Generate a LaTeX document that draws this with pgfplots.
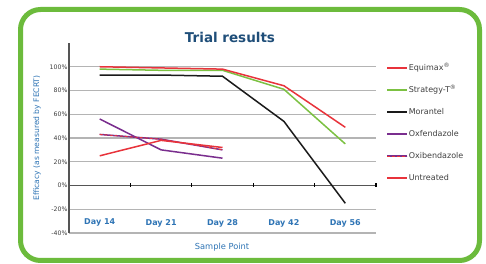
\documentclass[border=0pt]{standalone}
\usepackage{pgfplots}
\pgfplotsset{compat=1.18}
\usepackage{fontspec}
\setmainfont{DejaVu Sans}
\definecolor{framegreen}{HTML}{6CBB3C}
\definecolor{titleblue}{HTML}{1F4E79}
\definecolor{lblblue}{HTML}{2E74B5}
\definecolor{cred}{HTML}{E8333B}
\definecolor{cgreen}{HTML}{7CC142}
\definecolor{cblack}{HTML}{1A1A1A}
\definecolor{cpurple}{HTML}{7A2E8E}
\definecolor{gridgray}{HTML}{B4B4B4}
\definecolor{axgray}{HTML}{555555}
\tikzset{daylbl/.style={font=\fontsize{8}{8}\selectfont\bfseries, text=lblblue},
  gridln/.style={draw=gridgray, line width=1.4pt}}
\begin{document}
\begin{tikzpicture}[x=1pt,y=1pt]
\useasboundingbox (0,0) rectangle (486,264);
\draw[framegreen, line width=5pt, rounded corners=20pt, fill=white] (20.5,3.5) rectangle (479.5,254.5);
\node[font=\bfseries\fontsize{13.5}{13.5}\selectfont, text=titleblue] at (230,227) {Trial results};
\node[font=\fontsize{7.6}{7.6}\selectfont, text=lblblue, rotate=90] at (37,126) {Efficacy (as measured by FECRT)};
\node[font=\fontsize{8.3}{8.3}\selectfont, text=lblblue] at (222,17) {Sample Point};
\begin{axis}[
  at={(69pt,31pt)}, anchor=south west, scale only axis,
  width=307pt, height=190pt,
  xmin=-0.5, xmax=4.5, ymin=-40, ymax=120,
  axis line style={draw=none},
  xtick=\empty,
  ytick={-40,-20,0,20,40,60,80,100},
  yticklabels={-40\%,-20\%,0\%,20\%,40\%,60\%,80\%,100\%},
  yticklabel style={font=\fontsize{6.2}{6.2}\selectfont, text=black!75, xshift=2pt},
  major tick length=0pt,
  clip=false,
  legend cell align=left,
  legend style={at={(1.023,0.905)}, anchor=north west, draw=none, fill=none,
    font=\fontsize{8}{8}\selectfont, text=black!75, row sep=12pt,
    nodes={inner sep=1pt, text height=6pt, text depth=2pt}},
  legend image code/.code={\draw[#1] (0pt,0pt) -- (20pt,0pt);},
]
\addplot[forget plot, gridln] coordinates {(-0.5,-40) (4.5,-40)};
\addplot[forget plot, gridln] coordinates {(-0.5,-20) (4.5,-20)};
\addplot[forget plot, gridln] coordinates {(-0.5,20) (4.5,20)};
\addplot[forget plot, gridln] coordinates {(-0.5,40) (4.5,40)};
\addplot[forget plot, gridln] coordinates {(-0.5,60) (4.5,60)};
\addplot[forget plot, gridln] coordinates {(-0.5,80) (4.5,80)};
\addplot[forget plot, gridln] coordinates {(-0.5,100) (4.5,100)};
\addplot[forget plot, draw=axgray, line width=1.3pt] coordinates {(-0.5,0) (4.5,0)};
\addplot[forget plot, draw=axgray, line width=1.6pt] coordinates {(-0.5,-40) (-0.5,120)};
\addplot[forget plot, only marks, mark=|, mark size=2pt, mark options={draw=black, line width=1.2pt}] coordinates {(0.5,0) (1.5,0) (2.5,0) (3.5,0) (4.5,0)};
\addplot[forget plot, cblack, line width=1.5pt] coordinates {(0,93) (1,93) (2,92) (3,54) (4,-15)};
\addplot[forget plot, cgreen, line width=1.5pt] coordinates {(0,98) (1,97) (2,97) (3,81) (4,35)};
\addplot[forget plot, cred, line width=1.5pt] coordinates {(0,100) (1,99) (2,98) (3,84) (4,49)};
\addplot[forget plot, cpurple, line width=1.5pt] coordinates {(0,56) (1,30) (2,23)};
\addplot[forget plot, cpurple, line width=1.5pt] coordinates {(0,43) (1,39) (2,30)};
\addplot[forget plot, cred, line width=0.9pt, dash pattern=on 3pt off 2pt] coordinates {(0,43) (1,39) (2,30)};
\addplot[forget plot, cred, line width=1.5pt] coordinates {(0,25) (1,38) (2,32)};
\addlegendimage{cred, line width=1.5pt}
\addlegendentry{Equimax\textsuperscript{®}}
\addlegendimage{cgreen, line width=1.5pt}
\addlegendentry{Strategy-T\textsuperscript{®}}
\addlegendimage{cblack, line width=1.5pt}
\addlegendentry{Morantel}
\addlegendimage{cpurple, line width=1.5pt}
\addlegendentry{Oxfendazole}
\addlegendimage{cpurple, line width=1.5pt, postaction={draw=cred, line width=0.9pt, dash pattern=on 3pt off 2pt}}
\addlegendentry{Oxibendazole}
\addlegendimage{cred, line width=1.5pt}
\addlegendentry{Untreated}
\node[daylbl] at (axis cs:0,-31.5) {Day 14};
\node[daylbl] at (axis cs:1,-31.5) {Day 21};
\node[daylbl] at (axis cs:2,-31.5) {Day 28};
\node[daylbl] at (axis cs:3,-31.5) {Day 42};
\node[daylbl] at (axis cs:4,-31.5) {Day 56};
\end{axis}
\end{tikzpicture}
\end{document}
